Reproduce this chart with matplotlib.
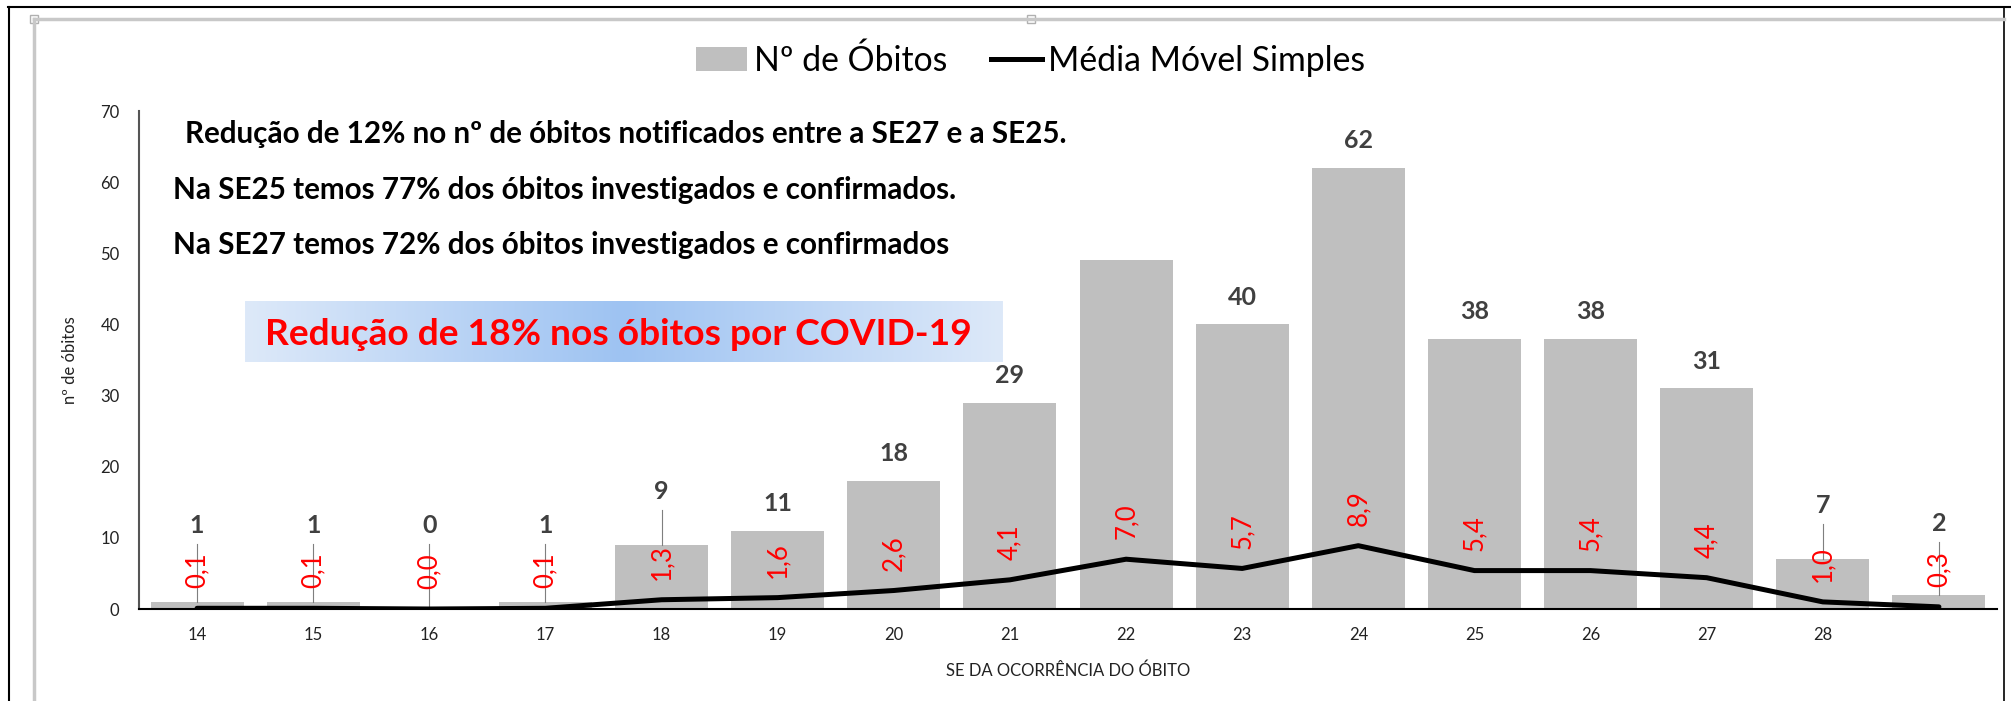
import numpy as np
import matplotlib
matplotlib.use("Agg")
import matplotlib.pyplot as plt
from matplotlib.patches import Patch, Rectangle
from matplotlib.lines import Line2D
from matplotlib.colors import LinearSegmentedColormap

plt.rcParams["font.family"] = ["Lato", "DejaVu Sans"]

# dados
semanas = ["14", "15", "16", "17", "18", "19", "20", "21", "22", "23", "24", "25", "26", "27", "28", ""]
obitos = [1, 1, 0, 1, 9, 11, 18, 29, 49, 40, 62, 38, 38, 31, 7, 2]
media_movel = [0.1, 0.1, 0.0, 0.1, 1.3, 1.6, 2.6, 4.1, 7.0, 5.7, 8.9, 5.4, 5.4, 4.4, 1.0, 0.3]
sem_rotulo = ["22"]  # semana cujo rótulo de barra não aparece

notas = [
    "Redução de 12% no nº de óbitos notificados entre a SE27 e a SE25.",
    "Na SE25 temos 77% dos óbitos investigados e confirmados.",
    "Na SE27 temos 72% dos óbitos investigados e confirmados",
]
destaque = "Redução de 18% nos óbitos por COVID-19"

W, H = 2011, 701
fig = plt.figure(figsize=(W / 100, H / 100), dpi=100)
r = fig.canvas.get_renderer()


def fx(x):
    return x / W


def fy(y):
    return 1 - y / H


def fit(txt, width_px):
    w = txt.get_window_extent(r).width
    txt.set_fontsize(txt.get_fontsize() * width_px / w)
    return txt.get_fontsize()


ax = fig.add_axes([fx(139), fy(609), (1997 - 139) / W, (609 - 111) / H])
x = np.arange(len(obitos))

ax.bar(x, obitos, width=0.8, color="#BFBFBF", zorder=1)
ax.plot(x, media_movel, color="black", lw=3.6, zorder=3, solid_joinstyle="round", solid_capstyle="round")

# rótulos das barras
for i, (v, m) in enumerate(zip(obitos, media_movel)):
    if semanas[i] in sem_rotulo:
        continue
    if v < 10:
        ly = max(v + 7.5, m + 11.7)
        ax.plot([i, i], [ly - 2.6, v], color="#7f7f7f", lw=0.8, zorder=2)
    else:
        ly = v + 3.8
    ax.text(i, ly, str(v), ha="center", va="center", fontsize=18, fontweight="bold",
            color="#404040", zorder=4)

# rótulos da média móvel
for i, m in enumerate(media_movel):
    ax.text(i, m + 5.3, f"{m:.1f}".replace(".", ","), rotation=90, ha="center", va="center",
            fontsize=18.5, color="red", zorder=5)

ax.set_xlim(-0.5, len(obitos) - 0.5)
ax.set_ylim(0, 70)
ax.set_yticks(range(0, 71, 10))
ax.set_xticks(x)
ax.set_xticklabels(semanas)
ax.tick_params(axis="both", length=0, labelsize=12, colors="#222222")
ax.tick_params(axis="y", pad=14)
ax.tick_params(axis="x", pad=13)
for s in ["top", "right"]:
    ax.spines[s].set_visible(False)
ax.spines["left"].set_color("#555555")
ax.spines["left"].set_linewidth(1.5)
ax.spines["bottom"].set_color("black")
ax.spines["bottom"].set_linewidth(1.5)
ax.set_xlabel("SE DA OCORRÊNCIA DO ÓBITO", fontsize=12, color="#222222", labelpad=14)
ax.set_ylabel("nº de óbitos", fontsize=12, color="#222222", labelpad=16)

# notas em negrito
t = fig.text(fx(185), fy(143), notas[0], fontsize=20, fontweight="bold", va="baseline")
fs = fit(t, 1066 - 185)
fig.text(fx(173), fy(199), notas[1], fontsize=fs, fontweight="bold", va="baseline")
fig.text(fx(173), fy(254), notas[2], fontsize=fs, fontweight="bold", va="baseline")

# caixa com gradiente
bx = fig.add_axes([fx(245), fy(362), (1003 - 245) / W, (362 - 301) / H])
cmap = LinearSegmentedColormap.from_list("azul", ["#dde9f9", "#9ec3f2"])
g = 1 - np.abs(np.linspace(-1, 1, 256))
bx.imshow(g[None, :], aspect="auto", cmap=cmap, extent=[0, 1, 0, 1])
bx.set_xlim(0, 1)
bx.set_ylim(0, 1)
bx.axis("off")
t = fig.text(fx(618), fy(345), destaque, fontsize=24, fontweight="bold", color="red",
             ha="center", va="baseline")
fit(t, 972 - 264)

# legenda
tmp = fig.text(0, 0, "Média Móvel Simples", fontsize=20)
lfs = fit(tmp, 1360 - 1042)
tmp.remove()
handles = [Patch(facecolor="#BFBFBF", edgecolor="none"), Line2D([], [], color="black", lw=3.6)]
fig.legend(handles, ["Nº de Óbitos", "Média Móvel Simples"], loc="center",
           bbox_to_anchor=(fx(1031), fy(61)), ncol=2, frameon=False, fontsize=lfs,
           handlelength=1.5, handleheight=0.72, handletextpad=0.2, columnspacing=1.3)

# moldura
fig.add_artist(Line2D([fx(8), fx(2011)], [fy(7), fy(7)], color="black", lw=1.5))
fig.add_artist(Line2D([fx(9), fx(9)], [fy(7), fy(701)], color="black", lw=1.5))
fig.add_artist(Line2D([fx(2004), fx(2004)], [fy(7), fy(701)], color="black", lw=1.2))
fig.add_artist(Line2D([fx(34), fx(2004)], [fy(19), fy(19)], color="#c8c8c8", lw=2.5))
fig.add_artist(Line2D([fx(34), fx(34)], [fy(19), fy(701)], color="#c8c8c8", lw=2.5))
for cx in [34, 1031]:
    fig.add_artist(Rectangle((fx(cx - 4), fy(23)), 8 / W, 8 / H, facecolor="white",
                             edgecolor="#b0b0b0", lw=1))

fig.savefig("out.png", dpi=100)
